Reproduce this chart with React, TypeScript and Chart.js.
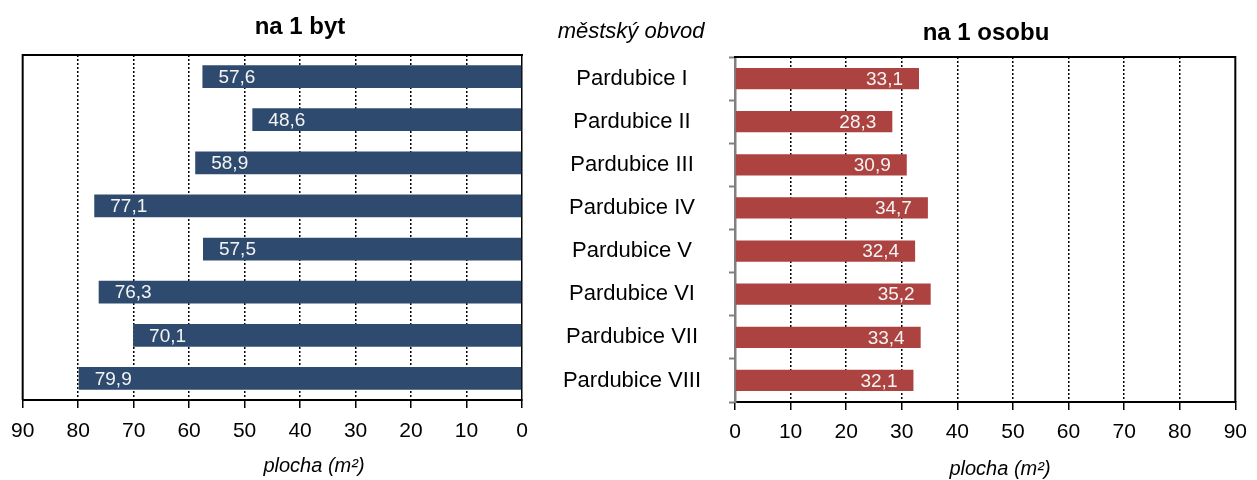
import React, { useEffect, useRef } from 'react';
import { Chart, registerables } from 'chart.js';

Chart.register(...registerables);

// ---- data ----
const districts = [
  'Pardubice I',
  'Pardubice II',
  'Pardubice III',
  'Pardubice IV',
  'Pardubice V',
  'Pardubice VI',
  'Pardubice VII',
  'Pardubice VIII',
];
const areaPerFlat = [57.6, 48.6, 58.9, 77.1, 57.5, 76.3, 70.1, 79.9];
const areaPerPerson = [33.1, 28.3, 30.9, 34.7, 32.4, 35.2, 33.4, 32.1];
const axisMin = 0;
const axisMax = 90;
const axisStep = 10;
const titleFlat = 'na 1 byt';
const titlePerson = 'na 1 osobu';
const categoryTitle = 'městský obvod';
const axisTitle = 'plocha (m²)';

const FONT = '"Liberation Sans", Arial, Helvetica, sans-serif';
const BLUE = '#2E4B6F';
const RED = '#AC4341';

const fmt = (v: number) => v.toFixed(1).replace('.', ',');

type FreeText = { text: string; x: number; y: number; font: string };

function textsPlugin(items: FreeText[]) {
  return {
    id: 'freeTexts',
    afterDraw(chart: any) {
      const ctx = chart.ctx;
      for (const t of items) {
        ctx.save();
        ctx.font = t.font;
        ctx.fillStyle = '#000';
        ctx.textAlign = 'center';
        ctx.textBaseline = 'middle';
        ctx.fillText(t.text, t.x, t.y);
        ctx.restore();
      }
    },
  };
}

function framePlugin(side: 'left' | 'right') {
  return {
    id: 'frame',
    afterDraw(chart: any) {
      const { ctx, chartArea: a } = chart;
      ctx.save();
      ctx.strokeStyle = '#000';
      ctx.lineWidth = 2;
      ctx.beginPath();
      ctx.moveTo(a.left - 1, a.top);
      ctx.lineTo(a.right + 1, a.top);
      const ex = side === 'left' ? a.left : a.right;
      ctx.moveTo(ex, a.top);
      ctx.lineTo(ex, a.bottom);
      ctx.stroke();
      ctx.restore();
    },
  };
}

const valueLabels = {
  id: 'valueLabels',
  afterDatasetsDraw(chart: any) {
    const ctx = chart.ctx;
    const meta = chart.getDatasetMeta(0);
    const data = chart.data.datasets[0].data as number[];
    ctx.save();
    ctx.font = `19px ${FONT}`;
    ctx.fillStyle = '#F4F4F4';
    ctx.textBaseline = 'middle';
    meta.data.forEach((bar: any, i: number) => {
      const { x, y, base } = bar.getProps(['x', 'y', 'base'], true);
      const inward = base > x ? 1 : -1;
      ctx.textAlign = inward > 0 ? 'left' : 'right';
      ctx.fillText(fmt(data[i]), x + inward * 16, y + 1);
    });
    ctx.restore();
  },
};

const gridDash = [2, 2];

export default function App() {
  const leftRef = useRef<HTMLCanvasElement | null>(null);
  const rightRef = useRef<HTMLCanvasElement | null>(null);

  useEffect(() => {
    document.body.style.margin = '0';
    Chart.defaults.font.family = FONT;
    Chart.defaults.color = '#000';

    // measure widest category label to center labels in the middle column
    const mc = document.createElement('canvas').getContext('2d')!;
    mc.font = `22px ${FONT}`;
    const widest = Math.max(...districts.map((d) => mc.measureText(d).width));
    const rightAxisWidth = 190;
    const labelCenter = 632 - 545;
    const yTickLen = 6;
    const yPad = rightAxisWidth - yTickLen - labelCenter - widest / 2;

    const left = new Chart(leftRef.current!, {
      type: 'bar',
      data: {
        labels: districts,
        datasets: [
          {
            data: areaPerFlat,
            backgroundColor: BLUE,
            barPercentage: 0.53,
            categoryPercentage: 1,
          },
        ],
      },
      options: {
        indexAxis: 'y',
        animation: false,
        responsive: false,
        layout: { padding: { left: 21, right: 23, top: 55, bottom: 0 } },
        plugins: { legend: { display: false }, tooltip: { enabled: false }, title: { display: false } },
        scales: {
          x: {
            type: 'linear',
            reverse: true,
            min: axisMin,
            max: axisMax,
            ticks: { stepSize: axisStep, font: { size: 21 }, color: '#000', padding: 11, maxRotation: 0 },
            grid: {
              color: (c: any) => (c.tick && (c.tick.value === axisMin || c.tick.value === axisMax) ? 'rgba(0,0,0,0)' : '#000'),
              lineWidth: 1.5,
              tickColor: '#000',
              tickLength: 8,
              tickWidth: 1.5,
            },
            border: { color: '#000', width: 2, dash: gridDash },
            afterFit: (s: any) => {
              s.height = 80;
            },
          },
          y: {
            position: 'right',
            ticks: { display: false },
            grid: { display: false },
            border: { color: '#000', width: 1.5 },
            afterFit: (s: any) => {
              s.width = 0;
            },
          },
        },
      },
      plugins: [
        valueLabels,
        framePlugin('left'),
        textsPlugin([
          { text: titleFlat, x: 300, y: 27, font: `bold 24px ${FONT}` },
          { text: axisTitle, x: 314, y: 466, font: `italic 20px ${FONT}` },
        ]),
      ],
    } as any);

    const right = new Chart(rightRef.current!, {
      type: 'bar',
      data: {
        labels: districts,
        datasets: [
          {
            data: areaPerPerson,
            backgroundColor: RED,
            barPercentage: 0.49,
            categoryPercentage: 1,
          },
        ],
      },
      options: {
        indexAxis: 'y',
        animation: false,
        responsive: false,
        layout: { padding: { left: 0, right: 17, top: 57, bottom: 0 } },
        plugins: { legend: { display: false }, tooltip: { enabled: false }, title: { display: false } },
        scales: {
          x: {
            type: 'linear',
            min: axisMin,
            max: axisMax,
            ticks: { stepSize: axisStep, font: { size: 21 }, color: '#000', padding: 10, maxRotation: 0 },
            grid: {
              color: (c: any) => (c.tick && (c.tick.value === axisMin || c.tick.value === axisMax) ? 'rgba(0,0,0,0)' : '#000'),
              lineWidth: 1.5,
              tickColor: '#000',
              tickLength: 8,
              tickWidth: 1.5,
            },
            border: { color: '#000', width: 2, dash: gridDash },
            afterFit: (s: any) => {
              s.height = 78;
            },
          },
          y: {
            position: 'left',
            ticks: { font: { size: 22 }, color: '#000', crossAlign: 'center', padding: yPad },
            grid: {
              display: true,
              drawOnChartArea: false,
              drawTicks: true,
              offset: true,
              tickLength: yTickLen,
              tickColor: '#808080',
              tickWidth: 2,
              color: '#808080',
            },
            border: { color: '#808080', width: 2.5 },
            afterFit: (s: any) => {
              s.width = rightAxisWidth;
            },
          },
        },
      },
      plugins: [
        valueLabels,
        framePlugin('right'),
        textsPlugin([
          { text: titlePerson, x: 986 - 545, y: 33, font: `bold 24px ${FONT}` },
          { text: categoryTitle, x: 631 - 545, y: 32, font: `italic 22px ${FONT}` },
          { text: axisTitle, x: 1000 - 545, y: 469, font: `italic 20px ${FONT}` },
        ]),
      ],
    } as any);

    return () => {
      left.destroy();
      right.destroy();
    };
  }, []);

  return (
    <div style={{ position: 'relative', width: 1257, height: 480, background: '#fff' }}>
      <canvas ref={leftRef} width={545} height={480} style={{ position: 'absolute', left: 0, top: 0 }} />
      <canvas ref={rightRef} width={712} height={480} style={{ position: 'absolute', left: 545, top: 0 }} />
    </div>
  );
}
